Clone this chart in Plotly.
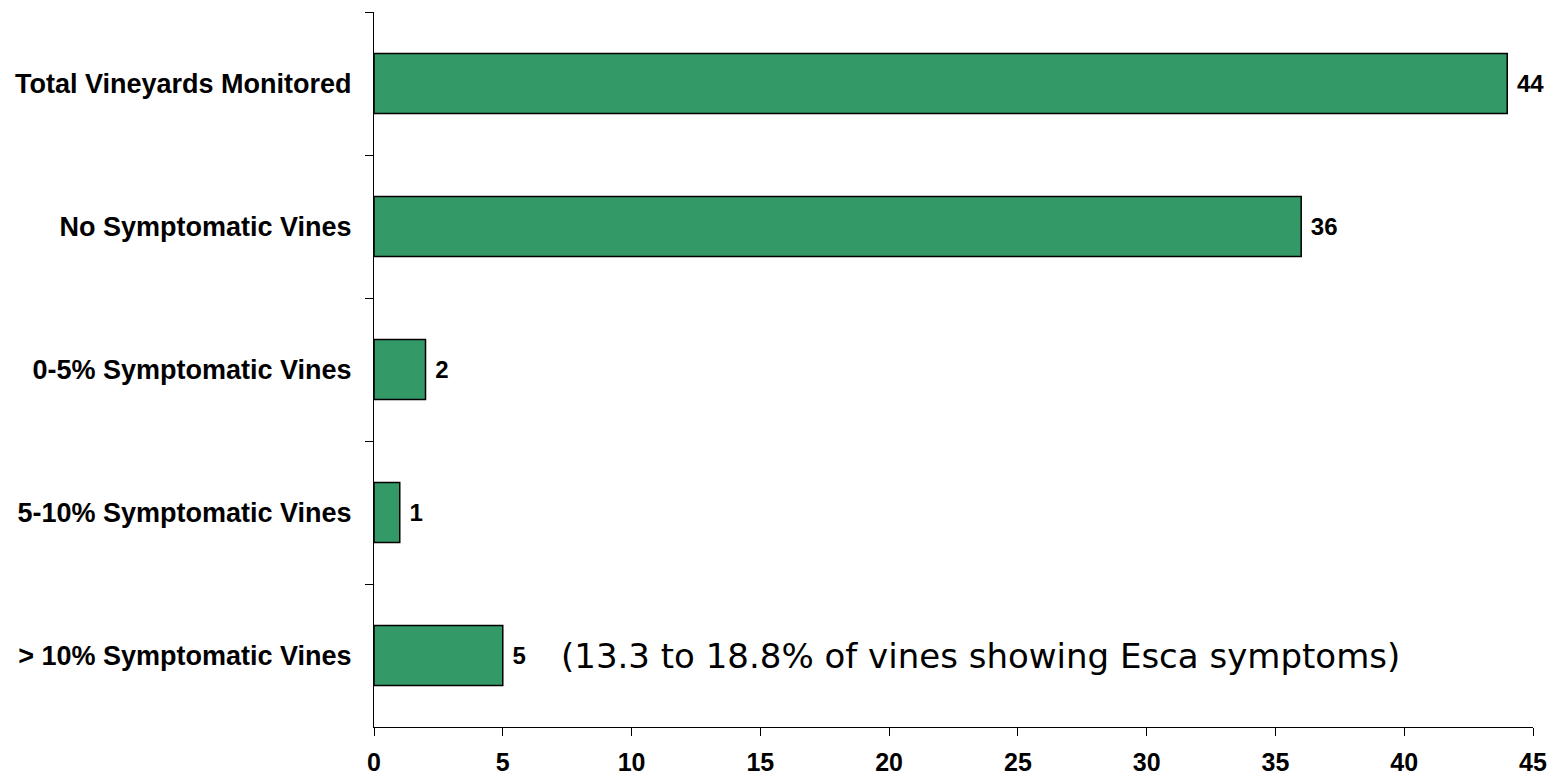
import plotly.graph_objects as go

categories = [
    "Total Vineyards Monitored",
    "No Symptomatic Vines",
    "0-5% Symptomatic Vines",
    "5-10% Symptomatic Vines",
    "> 10% Symptomatic Vines",
]
counts = [44, 36, 2, 1, 5]
x_ticks = [0, 5, 10, 15, 20, 25, 30, 35, 40, 45]
note_text = "(13.3 to 18.8% of vines showing Esca symptoms)"

bold_font = "Liberation Sans, Arial, sans-serif"

fig = go.Figure(
    go.Bar(
        x=counts,
        y=categories,
        orientation="h",
        marker=dict(color="#339966", line=dict(color="#000000", width=1.5)),
        texttemplate="\u00a0%{x}",
        textposition="outside",
        textfont=dict(family=bold_font, size=24, color="#000000", weight="bold"),
        cliponaxis=False,
    )
)

# explanatory note beside the "> 10%" bar
fig.add_annotation(
    x=7.18,
    y=categories[-1],
    xref="x",
    yref="y",
    text=note_text,
    showarrow=False,
    xanchor="left",
    yanchor="middle",
    font=dict(family="DejaVu Sans, Verdana, sans-serif", size=34, color="#000000"),
)

fig.update_layout(
    width=1557,
    height=780,
    margin=dict(l=374, r=24, t=12, b=53),
    paper_bgcolor="white",
    plot_bgcolor="white",
    bargap=0.58,
    showlegend=False,
    xaxis=dict(
        range=[0, 45],
        tickvals=x_ticks,
        ticktext=[str(t) for t in x_ticks],
        showgrid=False,
        zeroline=False,
        showline=True,
        linecolor="#000000",
        linewidth=1,
        ticks="outside",
        ticklen=8,
        tickcolor="#000000",
        ticklabelstandoff=5,
        tickfont=dict(family=bold_font, size=25, color="#000000", weight="bold"),
        automargin=False,
        fixedrange=True,
    ),
    yaxis=dict(
        autorange="reversed",
        showgrid=False,
        zeroline=False,
        showline=True,
        linecolor="#000000",
        linewidth=1,
        ticks="outside",
        tickson="boundaries",
        ticklen=8,
        tickcolor="#000000",
        ticklabelstandoff=16,
        tickfont=dict(family=bold_font, size=27, color="#000000", weight="bold"),
        automargin=False,
    ),
)

fig.write_html("out.html")
